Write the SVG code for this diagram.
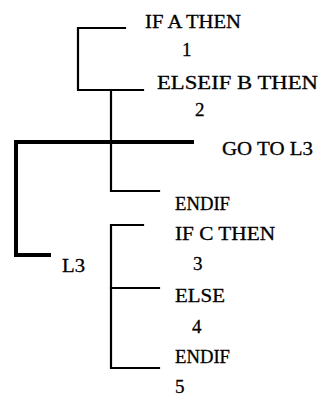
<svg xmlns="http://www.w3.org/2000/svg" width="325" height="402" viewBox="0 0 325 402">
  <style>
    .t { font-family: "Liberation Serif", "Times New Roman", serif; font-size: 19px; fill: #000; stroke: #000; stroke-width: 0.3; }
    .ln { fill: none; stroke: #000; stroke-width: 2.2; stroke-linecap: square; stroke-linejoin: miter; }
    .thick { fill: none; stroke: #000; stroke-width: 4; stroke-linecap: square; stroke-linejoin: miter; }
  </style>
  <rect width="325" height="402" fill="#fff"/>

  <!-- connectors: structure brackets -->
  <g id="connectors">
    <path class="ln" d="M125,28 H78 V90 H143"/>
    <path class="ln" d="M111,90 V191 H159"/>
    <path class="thick" d="M192,142 H16 V255 H49"/>
    <path class="ln" d="M143,225 H111 V368 H159"/>
    <path class="ln" d="M111,288 H159"/>
  </g>

  <g id="if-a"><text class="t" x="145" y="28" textLength="96" lengthAdjust="spacingAndGlyphs">IF A THEN</text></g>
  <g id="s1"><text class="t" x="182" y="56">1</text></g>
  <g id="elseif-b"><text class="t" x="157" y="89" textLength="161" lengthAdjust="spacingAndGlyphs">ELSEIF B THEN</text></g>
  <g id="s2"><text class="t" x="195" y="116">2</text></g>
  <g id="goto"><text class="t" x="222" y="155" textLength="91" lengthAdjust="spacingAndGlyphs">GO TO L3</text></g>
  <g id="endif-1"><text class="t" x="175" y="210" textLength="55" lengthAdjust="spacingAndGlyphs">ENDIF</text></g>
  <g id="if-c"><text class="t" x="175" y="240" textLength="100" lengthAdjust="spacingAndGlyphs">IF C THEN</text></g>
  <g id="s3"><text class="t" x="193" y="270">3</text></g>
  <g id="l3"><text class="t" x="62" y="272" textLength="23" lengthAdjust="spacingAndGlyphs">L3</text></g>
  <g id="else"><text class="t" x="175" y="302" textLength="50" lengthAdjust="spacingAndGlyphs">ELSE</text></g>
  <g id="s4"><text class="t" x="192" y="333">4</text></g>
  <g id="endif-2"><text class="t" x="175" y="363" textLength="55" lengthAdjust="spacingAndGlyphs">ENDIF</text></g>
  <g id="s5"><text class="t" x="175" y="393">5</text></g>
</svg>
